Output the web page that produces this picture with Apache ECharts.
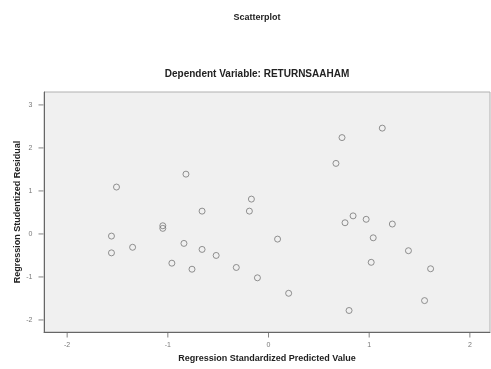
<!DOCTYPE html>
<html><head><meta charset="utf-8">
<script src="https://cdn.jsdelivr.net/npm/echarts@6/dist/echarts.min.js"></script>
<style>html,body{margin:0;padding:0;background:#fff}#c{width:491px;height:369px}</style>
</head><body><div id="c"></div>
<script>
var predicted = [-1.51,-0.82,-0.66,-1.05,-1.05,-1.56,-1.56,-1.35,-0.84,-0.66,-0.52,-0.96,-0.76,-0.32,
  -0.17,-0.19,0.09,-0.11,0.20,1.13,0.73,0.67,0.76,0.84,0.97,1.23,1.04,1.39,1.02,1.61,1.55,0.80];
var residual = [1.09,1.39,0.53,0.19,0.13,-0.05,-0.44,-0.31,-0.22,-0.36,-0.50,-0.68,-0.82,-0.78,
  0.81,0.53,-0.12,-1.02,-1.38,2.46,2.24,1.64,0.26,0.42,0.34,0.23,-0.09,-0.39,-0.66,-0.81,-1.55,-1.78];
var xTicks = [-2,-1,0,1,2];
var yTicks = [-2,-1,0,1,2,3];
var pts = predicted.map(function(v,i){return [v,residual[i]];});
var chart = echarts.init(document.getElementById('c'));
var font = 'Arial, "Liberation Sans", sans-serif';
chart.setOption({
  animation:false,
  title:[
    {text:'Scatterplot',left:252,top:8,textAlign:'center',textStyle:{fontSize:9,fontWeight:'bold',color:'#222',fontFamily:font}},
    {text:'Dependent Variable: RETURNSAAHAM',left:252,top:64,textAlign:'center',textStyle:{fontSize:10,fontWeight:'bold',color:'#222',fontFamily:font}}
  ],
  grid:{left:44,top:92,right:1,bottom:37,show:true,backgroundColor:'#f0f0f0',borderColor:'#b0b0b0',borderWidth:1},
  xAxis:{type:'value',min:-2.23,max:2.2,
    name:'Regression Standardized Predicted Value',nameLocation:'middle',nameGap:22,
    nameTextStyle:{fontSize:9,fontWeight:'bold',color:'#222',fontFamily:font},
    axisLine:{onZero:false,lineStyle:{color:'#666'}},axisTick:{show:false},splitLine:{show:false},axisLabel:{show:false}},
  yAxis:{type:'value',min:-2.28,max:3.3,
    name:'Regression Studentized Residual',nameLocation:'middle',nameGap:22,
    nameTextStyle:{fontSize:9,fontWeight:'bold',color:'#222',fontFamily:font},
    axisLine:{show:true,onZero:false,lineStyle:{color:'#666'}},axisTick:{show:false},splitLine:{show:false},axisLabel:{show:false}},
  series:[
    {type:'scatter',data:pts,symbol:'circle',symbolSize:6,
     itemStyle:{color:'rgba(0,0,0,0)',borderColor:'#777',borderWidth:1},z:3},
    {type:'scatter',data:xTicks.map(function(t){return [t,-2.28];}),symbol:'rect',symbolSize:[1,5],symbolOffset:[0,3],
     itemStyle:{color:'#666'},silent:true,
     label:{show:true,position:'bottom',distance:4,formatter:function(p){return p.value[0];},fontSize:7,color:'#555',fontFamily:font}},
    {type:'scatter',data:yTicks.map(function(t){return [-2.23,t];}),symbol:'rect',symbolSize:[5,1],symbolOffset:[-3,0],
     itemStyle:{color:'#666'},silent:true,
     label:{show:true,position:'left',distance:6,formatter:function(p){return p.value[1];},fontSize:7,color:'#555',fontFamily:font}}
  ]
});
</script></body></html>
